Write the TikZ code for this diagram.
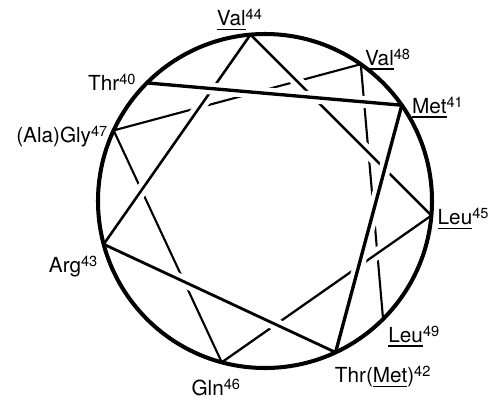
\documentclass[tikz,border=0pt]{standalone}
\usepackage{fontspec}
\setmainfont{TeX Gyre Heros}
\usepackage{tikz}
\usetikzlibrary{calc}
\newcommand{\rsup}[1]{\raisebox{3.4pt}{\fontsize{8.3}{9}\selectfont #1}}
\newcommand{\ulres}[1]{\setbox0\hbox{#1}\rlap{\rule[-2.6pt]{\wd0}{0.75pt}}\box0}

\begin{document}
\begin{tikzpicture}[x=0.02cm, y=-0.02cm,
      wheel/.style={line width=2.3pt},
      bond/.style={line width=#1, preaction={draw=white, line width=6.8pt, shorten <=7pt, shorten >=7pt}},
      lbl/.style={font=\fontsize{11.8}{13}\selectfont, inner sep=0pt}]
    \useasboundingbox (0,0) rectangle (498,400);
    \coordinate (ctr) at (265,201);
    \foreach \n in {40,...,49}
      \coordinate (r\n) at ($(ctr)+({100*(\n-40)-135}:167)$);
    \foreach \a/\b/\w in {48/49/1.2pt, 47/48/1.2pt, 46/47/1.2pt, 45/46/1.3pt, 44/45/1.4pt,
                          43/44/1.45pt, 42/43/1.6pt, 41/42/1.9pt, 40/41/1.9pt}
      \draw[bond=\w] (r\a) -- (r\b);
    \draw[wheel] (ctr) circle[radius=167];
    \node[lbl, anchor=base east] (l40) at ([shift={(-11,8)}]r40) {Thr\rsup{40}};
    \node[lbl, anchor=base west] (l41) at ([shift={(10,8)}]r41) {\ulres{Met}\rsup{41}};
    \node[lbl, anchor=base west] (l42) at ([shift={(-1,30)}]r42) {Thr(\ulres{Met})\rsup{42}};
    \node[lbl, anchor=base east] (l43) at ([shift={(-6,28)}]r43) {Arg\rsup{43}};
    \node[lbl, anchor=base] (l44) at ([shift={(-11,-9)}]r44) {\ulres{Val}\rsup{44}};
    \node[lbl, anchor=base west] (l45) at ([shift={(6,9)}]r45) {\ulres{Leu}\rsup{45}};
    \node[lbl, anchor=base] (l46) at ([shift={(-6,33)}]r46) {Gln\rsup{46}};
    \node[lbl, anchor=base east] (l47) at ([shift={(-6,12)}]r47) {(Ala)Gly\rsup{47}};
    \node[lbl, anchor=base west] (l48) at ([shift={(4,1)}]r48) {\ulres{Val}\rsup{48}};
    \node[lbl, anchor=base west] (l49) at ([shift={(5,23)}]r49) {\ulres{Leu}\rsup{49}};
\end{tikzpicture}
\end{document}
